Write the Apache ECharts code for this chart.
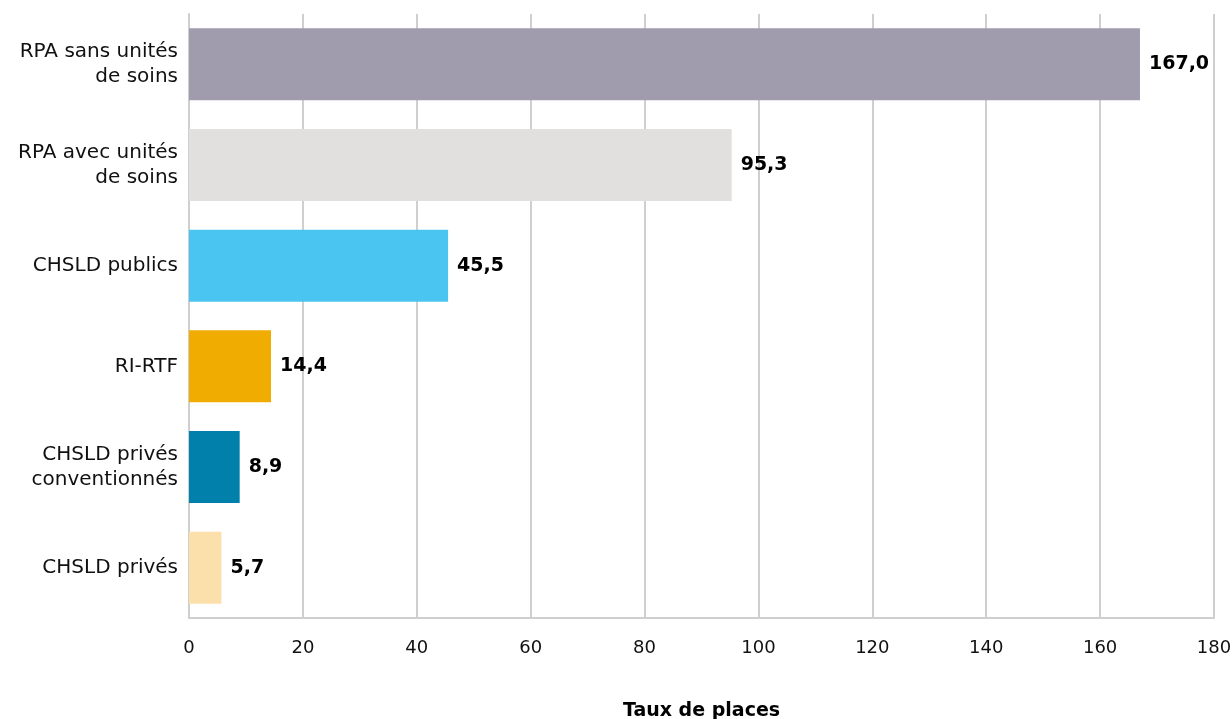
<!DOCTYPE html>
<html>
<head>
<meta charset="utf-8">
<script src="https://cdn.jsdelivr.net/npm/echarts@6/dist/echarts.min.js"></script>
<style>
  html, body { margin: 0; padding: 0; background: #fff; }
  #chart { width: 1232px; height: 719px; }
</style>
</head>
<body>
<div id="chart"></div>
<script>
// catégories, de haut en bas
const categories = [
  "RPA sans unités\nde soins",
  "RPA avec unités\nde soins",
  "CHSLD publics",
  "RI-RTF",
  "CHSLD privés\nconventionnés",
  "CHSLD privés"
];
const values = [167.0, 95.3, 45.5, 14.4, 8.9, 5.7];
const barColors = ["#a09cae", "#e1e0df", "#4ac4f0", "#f0ac00", "#0080aa", "#fce0ac"];
const xTicks = [0, 20, 40, 60, 80, 100, 120, 140, 160, 180];

const chart = echarts.init(document.getElementById("chart"));
chart.setOption({
  animation: false,
  textStyle: { fontFamily: "'DejaVu Sans', sans-serif" },
  grid: { left: 189, right: 18, top: 14, bottom: 101, outerBoundsMode: "none" },
  xAxis: {
    type: "value",
    min: xTicks[0],
    max: xTicks[xTicks.length - 1],
    interval: 20,
    name: "Taux de places",
    nameLocation: "middle",
    nameGap: 84,
    nameTextStyle: { fontSize: 19, fontWeight: "bold", color: "#000" },
    axisLine: { show: true, lineStyle: { color: "#cfcfcf", width: 2 } },
    axisTick: { show: false },
    axisLabel: { fontSize: 18, color: "#111", margin: 21 },
    splitLine: { show: true, lineStyle: { color: "#cfcfcf", width: 2 } }
  },
  yAxis: {
    type: "category",
    inverse: true,
    data: categories,
    axisLine: { show: true, lineStyle: { color: "#cfcfcf", width: 2 } },
    axisTick: { show: false },
    axisLabel: { fontSize: 20, color: "#111", margin: 11, lineHeight: 25, align: "right" }
  },
  series: [{
    type: "bar",
    barCategoryGap: "28.5%",
    data: values.map((v, i) => ({ value: v, itemStyle: { color: barColors[i] } })),
    label: {
      show: true,
      position: "right",
      distance: 9,
      fontSize: 19,
      fontWeight: "bold",
      color: "#000",
      formatter: p => p.value.toFixed(1).replace(".", ",")
    }
  }]
});
</script>
</body>
</html>
